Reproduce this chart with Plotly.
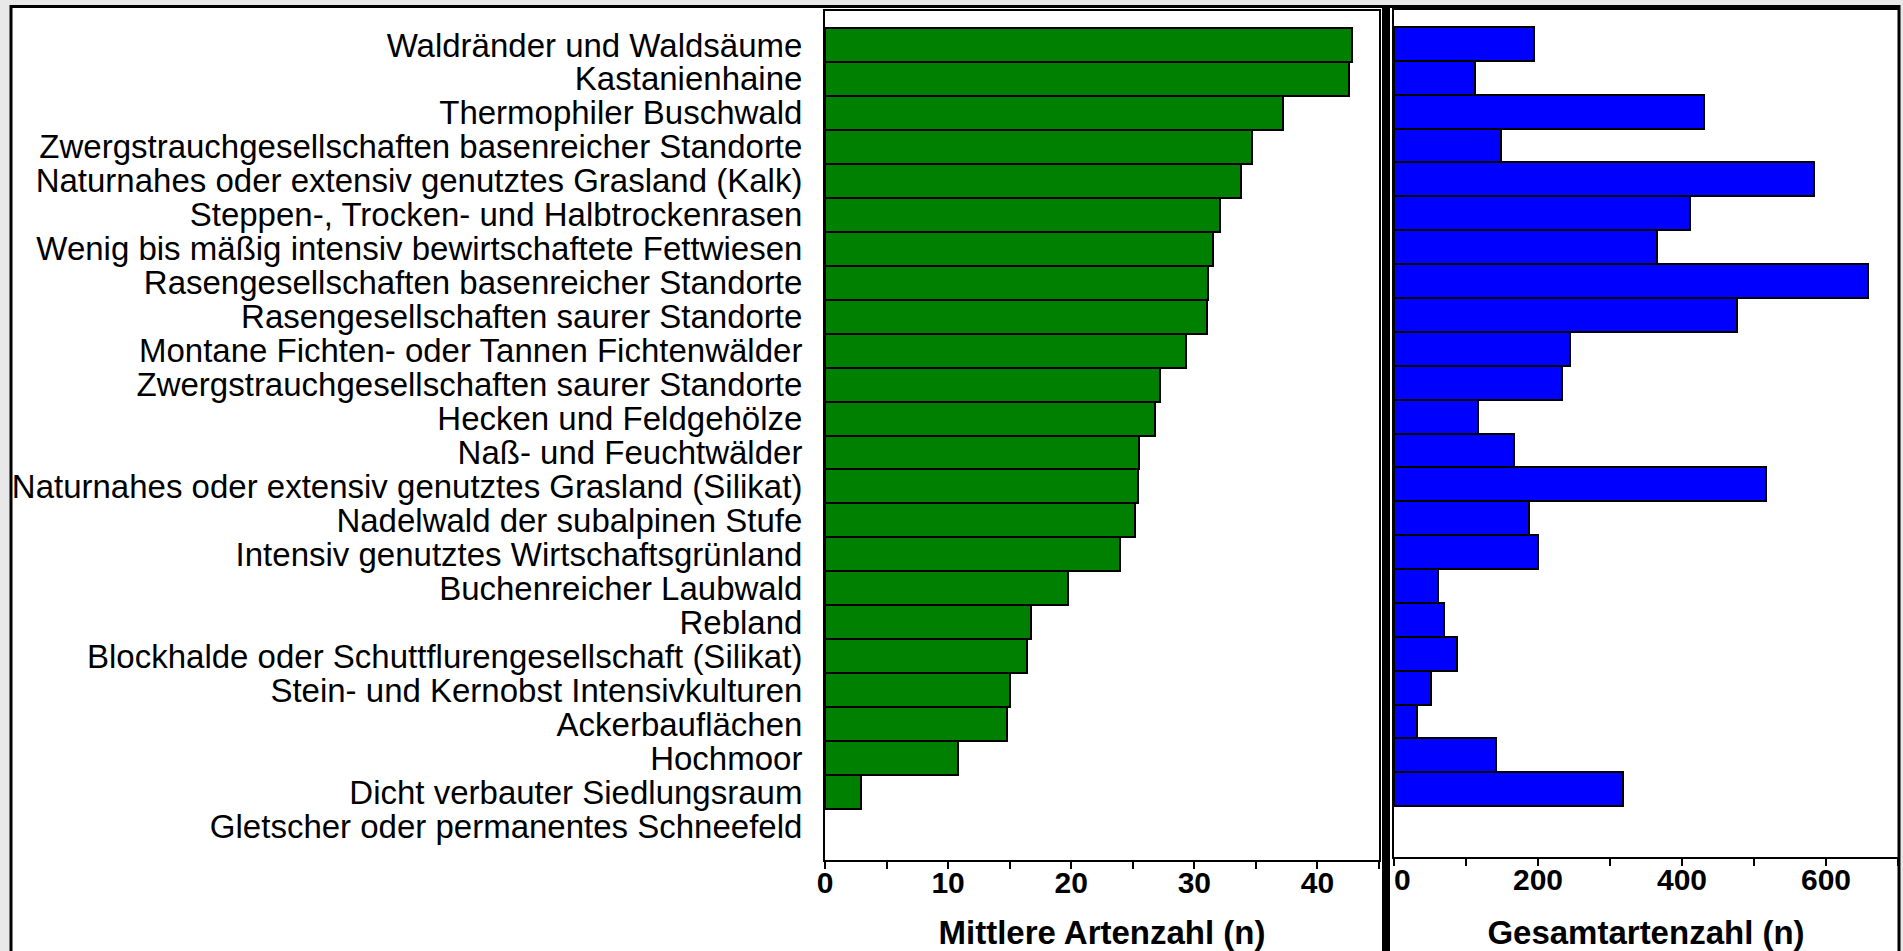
import plotly.graph_objects as go

categories = [
    "Waldränder und Waldsäume",
    "Kastanienhaine",
    "Thermophiler Buschwald",
    "Zwergstrauchgesellschaften basenreicher Standorte",
    "Naturnahes oder extensiv genutztes Grasland (Kalk)",
    "Steppen-, Trocken- und Halbtrockenrasen",
    "Wenig bis mäßig intensiv bewirtschaftete Fettwiesen",
    "Rasengesellschaften basenreicher Standorte",
    "Rasengesellschaften saurer Standorte",
    "Montane Fichten- oder Tannen Fichtenwälder",
    "Zwergstrauchgesellschaften saurer Standorte",
    "Hecken und Feldgehölze",
    "Naß- und Feuchtwälder",
    "Naturnahes oder extensiv genutztes Grasland (Silikat)",
    "Nadelwald der subalpinen Stufe",
    "Intensiv genutztes Wirtschaftsgrünland",
    "Buchenreicher Laubwald",
    "Rebland",
    "Blockhalde oder Schuttflurengesellschaft (Silikat)",
    "Stein- und Kernobst Intensivkulturen",
    "Ackerbauflächen",
    "Hochmoor",
    "Dicht verbauter Siedlungsraum",
    "Gletscher oder permanentes Schneefeld",
]

mittlere_artenzahl = [42.8, 42.6, 37.2, 34.7, 33.8, 32.1, 31.5, 31.1, 31.0, 29.3,
                      27.2, 26.8, 25.5, 25.4, 25.2, 24.0, 19.7, 16.7, 16.4, 15.0,
                      14.8, 10.8, 2.9, 0.0]

gesamtartenzahl = [194, 112, 430, 148, 583, 411, 365, 659, 476, 245,
                   234, 117, 166, 516, 187, 200, 61, 70, 87, 51,
                   32, 141, 318, 0]

left_ticks = [0, 10, 20, 30, 40]
right_ticks = [0, 200, 400, 600]
right_ticktext = ["\u00a0\u00a00", "200", "400", "600"]

W, H = 1903, 951


def fx(px):
    return px / W


def fy(px):
    return 1 - px / H


pos = list(range(len(categories)))
FONT = "Liberation Sans, Arial, Helvetica, sans-serif"

left_outline = [2 if v > 0 else 0 for v in mittlere_artenzahl]
right_outline = [2 if v > 0 else 0 for v in gesamtartenzahl]

fig = go.Figure()
fig.add_trace(go.Bar(
    y=pos, x=mittlere_artenzahl, orientation="h", width=1,
    marker=dict(color="#008000", line=dict(color="black", width=left_outline)),
    xaxis="x", yaxis="y", showlegend=False,
))
fig.add_trace(go.Bar(
    y=pos, x=gesamtartenzahl, orientation="h", width=1,
    marker=dict(color="#0000ff", line=dict(color="black", width=right_outline)),
    xaxis="x2", yaxis="y2", showlegend=False,
))

tickfont = dict(family=FONT, size=30, color="black", weight="bold")
titlefont = dict(family=FONT, size=33, color="black", weight="bold")

fig.update_layout(
    width=W, height=H,
    margin=dict(l=0, r=0, t=0, b=0, autoexpand=False),
    paper_bgcolor="#e8e8e8",
    plot_bgcolor="white",
    font=dict(family=FONT, color="black"),
    bargap=0,
    xaxis=dict(
        domain=[fx(825), fx(1379)], anchor="y", range=[0, 45], automargin=False,
        tickvals=left_ticks, ticks="outside", ticklen=7, tickwidth=2, tickcolor="black",
        minor=dict(dtick=5, tick0=0, ticks="outside", ticklen=7, tickwidth=2, tickcolor="black"),
        ticklabelstandoff=-12,
        showline=True, linecolor="black", linewidth=2, mirror=True,
        showgrid=False, zeroline=False, tickfont=tickfont,
        title=dict(text="Mittlere Artenzahl (n)", font=titlefont, standoff=30),
    ),
    yaxis=dict(
        domain=[fy(860), fy(11)], anchor="x", range=[24, -1], automargin=False,
        tickvals=pos, ticktext=categories, ticks="",
        ticklabelstandoff=14,
        showline=True, linecolor="black", linewidth=2, mirror=True,
        showgrid=False, zeroline=False,
        tickfont=dict(family=FONT, size=33, color="black"),
    ),
    xaxis2=dict(
        domain=[fx(1394), fx(1898)], anchor="y2", range=[0, 700], automargin=False,
        tickvals=right_ticks, ticktext=right_ticktext,
        ticks="outside", ticklen=7, tickwidth=2, tickcolor="black",
        minor=dict(dtick=100, tick0=0, ticks="outside", ticklen=7, tickwidth=2, tickcolor="black"),
        ticklabelstandoff=-12,
        showline=True, linecolor="black", linewidth=2, mirror=True,
        showgrid=False, zeroline=False, tickfont=tickfont,
        title=dict(text="Gesamtartenzahl (n)", font=titlefont, standoff=30),
    ),
    yaxis2=dict(
        domain=[fy(857), fy(10)], anchor="x2", range=[24, -1], automargin=False,
        showticklabels=False, ticks="",
        showline=True, linecolor="black", linewidth=2, mirror=True,
        showgrid=False, zeroline=False,
    ),
    shapes=[
        dict(type="rect", xref="paper", yref="paper", layer="below",
             x0=fx(11), x1=fx(1386), y0=fy(975), y1=fy(6.5),
             fillcolor="white", line=dict(color="black", width=3)),
        dict(type="rect", xref="paper", yref="paper", layer="below",
             x0=fx(1386), x1=fx(1899), y0=fy(975), y1=fy(6.5),
             fillcolor="white", line=dict(color="black", width=3)),
        dict(type="rect", xref="paper", yref="paper", layer="below",
             x0=fx(1382), x1=fx(1390), y0=fy(975), y1=fy(5),
             fillcolor="black", line=dict(width=0)),
    ],
)

fig.write_html(
    "out.html",
    config={"displayModeBar": False},
    post_script="document.body.style.margin='0';document.body.style.overflow='hidden';",
)
